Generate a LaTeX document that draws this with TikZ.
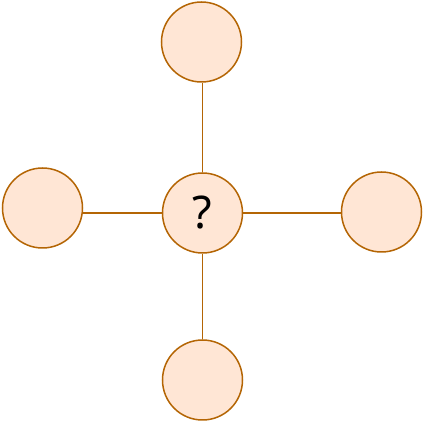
\documentclass[tikz,border=0pt]{standalone}
\usepackage{fontspec}
\setmainfont{Noto Sans}
\definecolor{dotfill}{HTML}{FFE6D5}
\definecolor{dotline}{HTML}{B46504}
\tikzset{
  dot/.style={circle, draw=dotline, fill=dotfill, line width=1.5pt, minimum size=80pt, inner sep=0pt},
  link/.style={draw=dotline, line width=1.5pt}
}

\begin{document}
\begin{tikzpicture}[x=1pt, y=-1pt]
\useasboundingbox (0,0) rectangle (424,422);
\node[dot] (mid) at (202.5,213) {\fontsize{45}{45}\selectfont ?};
\node[dot] (up) at (201.5,42) {};
\node[dot] (left) at (42.5,208) {};
\node[dot] (right) at (381.5,212) {};
\node[dot] (down) at (202.5,380) {};

\draw[link] (mid.west) -- (mid.west -| left.east);
\draw[link] (mid.east) -- (mid.east -| right.west);
\draw[link] (mid.north) -- (mid.north |- up.south);
\draw[link] (mid.south) -- (mid.south |- down.north);
\end{tikzpicture}
\end{document}
